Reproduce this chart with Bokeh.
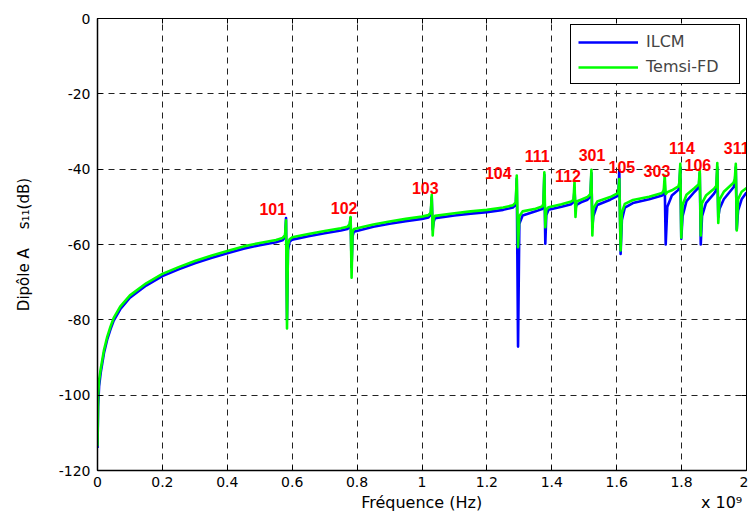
from bokeh.plotting import figure
from bokeh.models import Range1d, FixedTicker, LinearAxis, Legend, LegendItem, ColumnDataSource
from bokeh.core.properties import value
from bokeh.embed import file_html
from bokeh.resources import INLINE

# ---- data (frequency in units of 1e9 Hz, magnitude in dB) ----
freq = [
    0.000, 0.002, 0.005, 0.010, 0.020, 0.030, 0.040, 0.050, 0.070, 0.100,
    0.150, 0.200, 0.250, 0.300, 0.350, 0.400, 0.450, 0.500, 0.550, 0.570,
    0.578, 0.581, 0.584, 0.587, 0.592,
    0.600, 0.650, 0.700, 0.750, 0.770,
    0.777, 0.780, 0.783, 0.786, 0.790,
    0.850, 0.900, 0.950, 1.000, 1.020,
    1.027, 1.030, 1.033, 1.036, 1.040,
    1.100, 1.150, 1.200, 1.250, 1.280,
    1.289, 1.292, 1.296, 1.300, 1.310,
    1.350, 1.370,
    1.374, 1.377, 1.380, 1.383, 1.390,
    1.430, 1.460,
    1.467, 1.470, 1.473, 1.476, 1.490,
    1.510,
    1.519, 1.522, 1.525, 1.528, 1.540,
    1.580,
    1.605, 1.608, 1.612, 1.616, 1.625,
    1.650, 1.700, 1.740,
    1.745, 1.748, 1.751, 1.756, 1.770,
    1.790, 1.793, 1.796, 1.799, 1.803, 1.815,
    1.840,
    1.853, 1.856, 1.859, 1.863, 1.875,
    1.900, 1.907, 1.910, 1.913, 1.917, 1.930,
    1.960, 1.964, 1.967, 1.970, 1.974, 1.985,
    2.000,
]

db_temsi = [
    -113.5, -100.0, -96.0, -93.0, -88.0, -84.5, -81.8, -79.5, -76.5, -73.5,
    -70.3, -67.8, -66.0, -64.4, -63.0, -61.7, -60.5, -59.6, -58.8, -58.3,
    -57.5, -53.6, -82.3, -60.0, -58.6,
    -58.1, -57.2, -56.4, -55.7, -55.3,
    -54.6, -52.7, -68.8, -56.6, -55.9,
    -54.7, -53.9, -53.2, -52.6, -52.2,
    -51.5, -46.8, -57.6, -53.0, -52.4,
    -51.7, -51.2, -50.8, -50.2, -49.6,
    -48.8, -41.7, -60.7, -52.5, -51.2,
    -50.5, -49.9,
    -49.2, -40.8, -55.4, -50.8, -50.1,
    -49.3, -48.6,
    -48.1, -43.3, -52.7, -48.6, -48.1,
    -47.4,
    -46.6, -40.2, -57.6, -50.5, -48.6,
    -47.4,
    -46.3, -42.6, -61.6, -51.5, -49.2,
    -48.2, -47.3, -46.3,
    -45.6, -41.7, -46.6, -46.1, -45.6,
    -44.6, -43.6, -38.6, -58.2, -49.5, -46.8,
    -45.0,
    -44.0, -40.2, -57.6, -49.0, -47.0,
    -45.2, -44.4, -38.4, -54.3, -48.0, -46.0,
    -43.6, -42.6, -38.6, -56.3, -48.0, -46.0,
    -45.0,
]

db_ilcm = [
    -114.0, -103.0, -97.5, -94.0, -88.8, -85.2, -82.5, -80.2, -77.2, -74.1,
    -70.9, -68.4, -66.6, -65.0, -63.6, -62.3, -61.1, -60.2, -59.4, -58.9,
    -58.0, -53.0, -80.0, -61.5, -59.3,
    -58.7, -57.8, -57.0, -56.3, -55.9,
    -55.2, -52.9, -66.0, -57.8, -56.6,
    -55.3, -54.5, -53.8, -53.2, -52.8,
    -52.1, -47.5, -56.0, -54.0, -53.0,
    -52.3, -51.8, -51.4, -50.8, -50.2,
    -49.4, -42.5, -87.1, -54.5, -52.3,
    -51.2, -50.6,
    -49.9, -41.5, -59.8, -52.2, -50.8,
    -50.0, -49.3,
    -48.7, -45.5, -50.5, -49.5, -48.8,
    -48.1,
    -47.3, -41.0, -55.4, -52.5, -49.5,
    -48.1,
    -47.0, -40.4, -62.5, -53.5, -50.2,
    -49.0, -48.0, -47.0,
    -46.3, -44.0, -60.0, -50.0, -47.0,
    -45.5, -44.5, -39.5, -58.5, -52.5, -48.5,
    -46.0,
    -44.8, -41.0, -60.0, -52.5, -49.0,
    -46.5, -45.5, -39.5, -52.7, -50.5, -48.0,
    -44.8, -43.8, -39.5, -56.0, -51.0, -48.0,
    -46.2,
]

mode_labels = ["101", "102", "103", "104", "111", "112", "301", "105", "303", "114", "106", "311"]
mode_x = [0.540, 0.760, 1.010, 1.235, 1.355, 1.450, 1.524, 1.616, 1.724, 1.801, 1.850, 1.970]
mode_y = [-50.7, -50.4, -45.1, -40.9, -36.4, -41.7, -36.2, -39.3, -40.6, -34.5, -39.0, -34.5]

x_ticks = [0, 0.2, 0.4, 0.6, 0.8, 1.0, 1.2, 1.4, 1.6, 1.8, 2.0]
x_tick_labels = ["0", "0.2", "0.4", "0.6", "0.8", "1", "1.2", "1.4", "1.6", "1.8", "2"]
y_ticks = [-120, -100, -80, -60, -40, -20, 0]
y_tick_labels = ["-120", "-100", "-80", "-60", "-40", "-20", "0"]
x_title = "Fréquence (Hz)"
x_exponent = "x 10\u2079"

# ---- figure ----
p = figure(width=748, height=527, output_backend="svg", toolbar_location=None,
           x_range=Range1d(0, 2), y_range=Range1d(-120, 0),
           min_border_left=97, min_border_right=2, min_border_top=18, min_border_bottom=57)
p.background_fill_color = "white"
p.border_fill_color = "white"
p.outline_line_color = "black"
p.outline_line_width = 1

font = "DejaVu Sans"

for ax, ticks, labels in ((p.xaxis[0], x_ticks, x_tick_labels), (p.yaxis[0], y_ticks, y_tick_labels)):
    ax.ticker = FixedTicker(ticks=ticks)
    ax.major_label_overrides = {t: l for t, l in zip(ticks, labels)}
    ax.major_tick_in = 5
    ax.major_tick_out = 0
    ax.minor_tick_in = 0
    ax.minor_tick_out = 0
    ax.axis_line_color = "black"
    ax.axis_line_width = 1.5
    ax.major_tick_line_color = "black"
    ax.major_label_text_font = font
    ax.major_label_text_font_size = "14px"
    ax.major_label_text_color = "black"
    ax.axis_label_text_font = font
    ax.axis_label_text_font_style = "normal"
    ax.axis_label_text_color = "black"

# x label: title centred under the frame, exponent multiplier at the right end
nb = "\u00a0"
p.xaxis.axis_label = nb * 51 + x_title + nb * 43 + x_exponent
p.xaxis.axis_label_text_font_size = "16px"
p.xaxis.major_label_standoff = 6
p.xaxis.axis_label_standoff = 3

p.yaxis.axis_label = "Dipôle A" + nb * 4 + "s\u2081\u2081(dB)"
p.yaxis.axis_label_text_font_size = "15px"
p.yaxis.major_label_standoff = 7
p.yaxis.axis_label_standoff = 23

# inward ticks on top and right (no labels)
for loc, ticks in (("above", x_ticks), ("right", y_ticks)):
    ax = LinearAxis(ticker=FixedTicker(ticks=ticks),
                    major_label_overrides={t: "" for t in ticks}, major_label_standoff=0,
                    major_tick_in=5, major_tick_out=0, minor_tick_in=0, minor_tick_out=0,
                    axis_line_color="black", major_tick_line_color="black")
    p.add_layout(ax, loc)

for g in (p.xgrid[0], p.ygrid[0]):
    g.grid_line_color = "#222222"
    g.grid_line_dash = "6 5"
    g.grid_line_width = 1

src = ColumnDataSource(data=dict(f=freq, ilcm=db_ilcm, temsi=db_temsi))
r1 = p.line("f", "ilcm", source=src, line_color="#0000ff", line_width=2.6, line_join="round")
r2 = p.line("f", "temsi", source=src, line_color="#00ff00", line_width=2.6, line_join="round")

lab_src = ColumnDataSource(data=dict(x=mode_x, y=mode_y, t=mode_labels))
p.text("x", "y", text="t", source=lab_src, text_color="#ff0000",
       text_font=value("Liberation Sans"), text_font_style="bold",
       text_font_size="16px", text_align="center", text_baseline="middle")

legend = Legend(items=[LegendItem(label="ILCM", renderers=[r1]),
                       LegendItem(label="Temsi-FD", renderers=[r2])],
                location="top_right")
legend.margin = 6
legend.padding = 7
legend.spacing = 6
legend.glyph_width = 60
legend.glyph_height = 18
legend.label_standoff = 8
legend.label_width = 86
legend.label_text_font = font
legend.label_text_font_size = "16px"
legend.border_line_color = "black"
legend.border_line_width = 1
legend.border_line_alpha = 1
legend.background_fill_color = "white"
legend.background_fill_alpha = 1
p.add_layout(legend)

open("out.html", "w").write(file_html(p, INLINE))
